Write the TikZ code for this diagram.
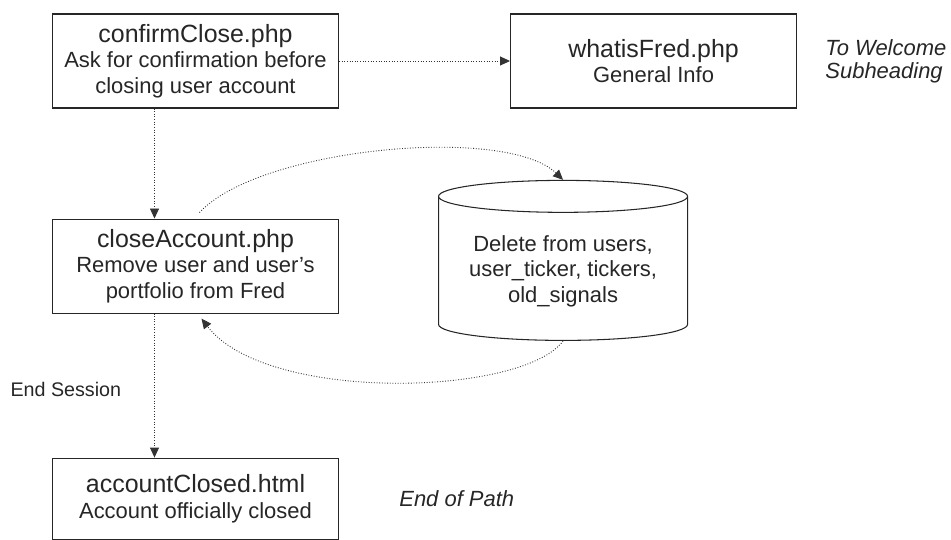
\documentclass[tikz,border=0pt]{standalone}
\usepackage{fontspec}
\setmainfont{Liberation Sans}
\usetikzlibrary{positioning,arrows.meta,shapes.geometric}
\tikzset{%
  pageBox/.style={%
    rectangle,
    draw=black!85,
    line width=0.6pt,
    minimum width=5.72cm,
    minimum height=1.88cm,
    align=center,
    text=black!85,
    font=\fontsize{12.5}{14.5}\selectfont
  },
  dataStore/.style={%
    cylinder,
    shape border rotate=90,
    draw=black!85,
    line width=0.6pt,
    minimum width=4.98cm,
    minimum height=3.2cm,
    shape aspect=0.16,
    align=center,
    text=black!85,
    font=\fontsize{12.5}{14.5}\selectfont
  },
  flowArrow/.style={%
    -{Triangle[length=2mm,width=1.8mm]},
    line width=0.5pt,
    dash pattern=on 0.5pt off 1pt,
    color=black!80
  },
  noteText/.style={%
    inner sep=0pt,
    align=left,
    text=black!85,
    font=\itshape\fontsize{12.5}{13}\selectfont
  },
  labelText/.style={%
    inner sep=0pt,
    text=black!85,
    font=\fontsize{11.2}{13}\selectfont
  }
}
\newcommand{\pageName}[1]{{\fontsize{14.2}{16}\selectfont #1}}

\begin{document}
\begin{tikzpicture}[node distance=2.2cm]
  \useasboundingbox (0,0) rectangle (19.02,-10.8);
  \node[pageBox] (confirmClose) at (3.91,-1.22) {\pageName{confirmClose.php}\\Ask for confirmation before\\closing user account};
  \node[pageBox, right=3.42cm of confirmClose] (whatisFred) {\pageName{whatisFred.php}\\General Info};
  \node[noteText, right=0.56cm of whatisFred] (toWelcome) {To Welcome\\Subheading};
  \node[pageBox, below=2.2cm of confirmClose] (closeAccount) {\pageName{closeAccount.php}\\Remove user and user's\\portfolio from Fred};
  \node[dataStore, right=1.98cm of closeAccount, yshift=-0.1cm] (userTables) {Delete from users,\\user\_ticker, tickers,\\old\_signals};
  \node[pageBox, minimum height=1.62cm, below=2.88cm of closeAccount] (accountClosed) {\pageName{accountClosed.html}\\Account officially closed};
  \node[noteText, right=1.2cm of accountClosed] (endPath) {End of Path};

  \draw[flowArrow] (confirmClose.east) -- (confirmClose.east -| whatisFred.west);
  \draw[flowArrow] ([xshift=-0.82cm]confirmClose.south) -- ([xshift=-0.82cm]closeAccount.north);
  \draw[flowArrow] ([xshift=-0.82cm]closeAccount.south) -- node[labelText, pos=0.53, left=0.66cm] (endSession) {End Session} ([xshift=-0.82cm]accountClosed.north);
  \draw[flowArrow] ([shift={(0.08,0.12)}]closeAccount.north) .. controls +(1.2,1.3) and +(-1.14,1.1) .. (userTables.north);
  \draw[flowArrow] (userTables.south) .. controls +(-0.8,-1.1) and +(1.3,-1.7) .. ([shift={(0.12,-0.1)}]closeAccount.south);
\end{tikzpicture}
\end{document}
